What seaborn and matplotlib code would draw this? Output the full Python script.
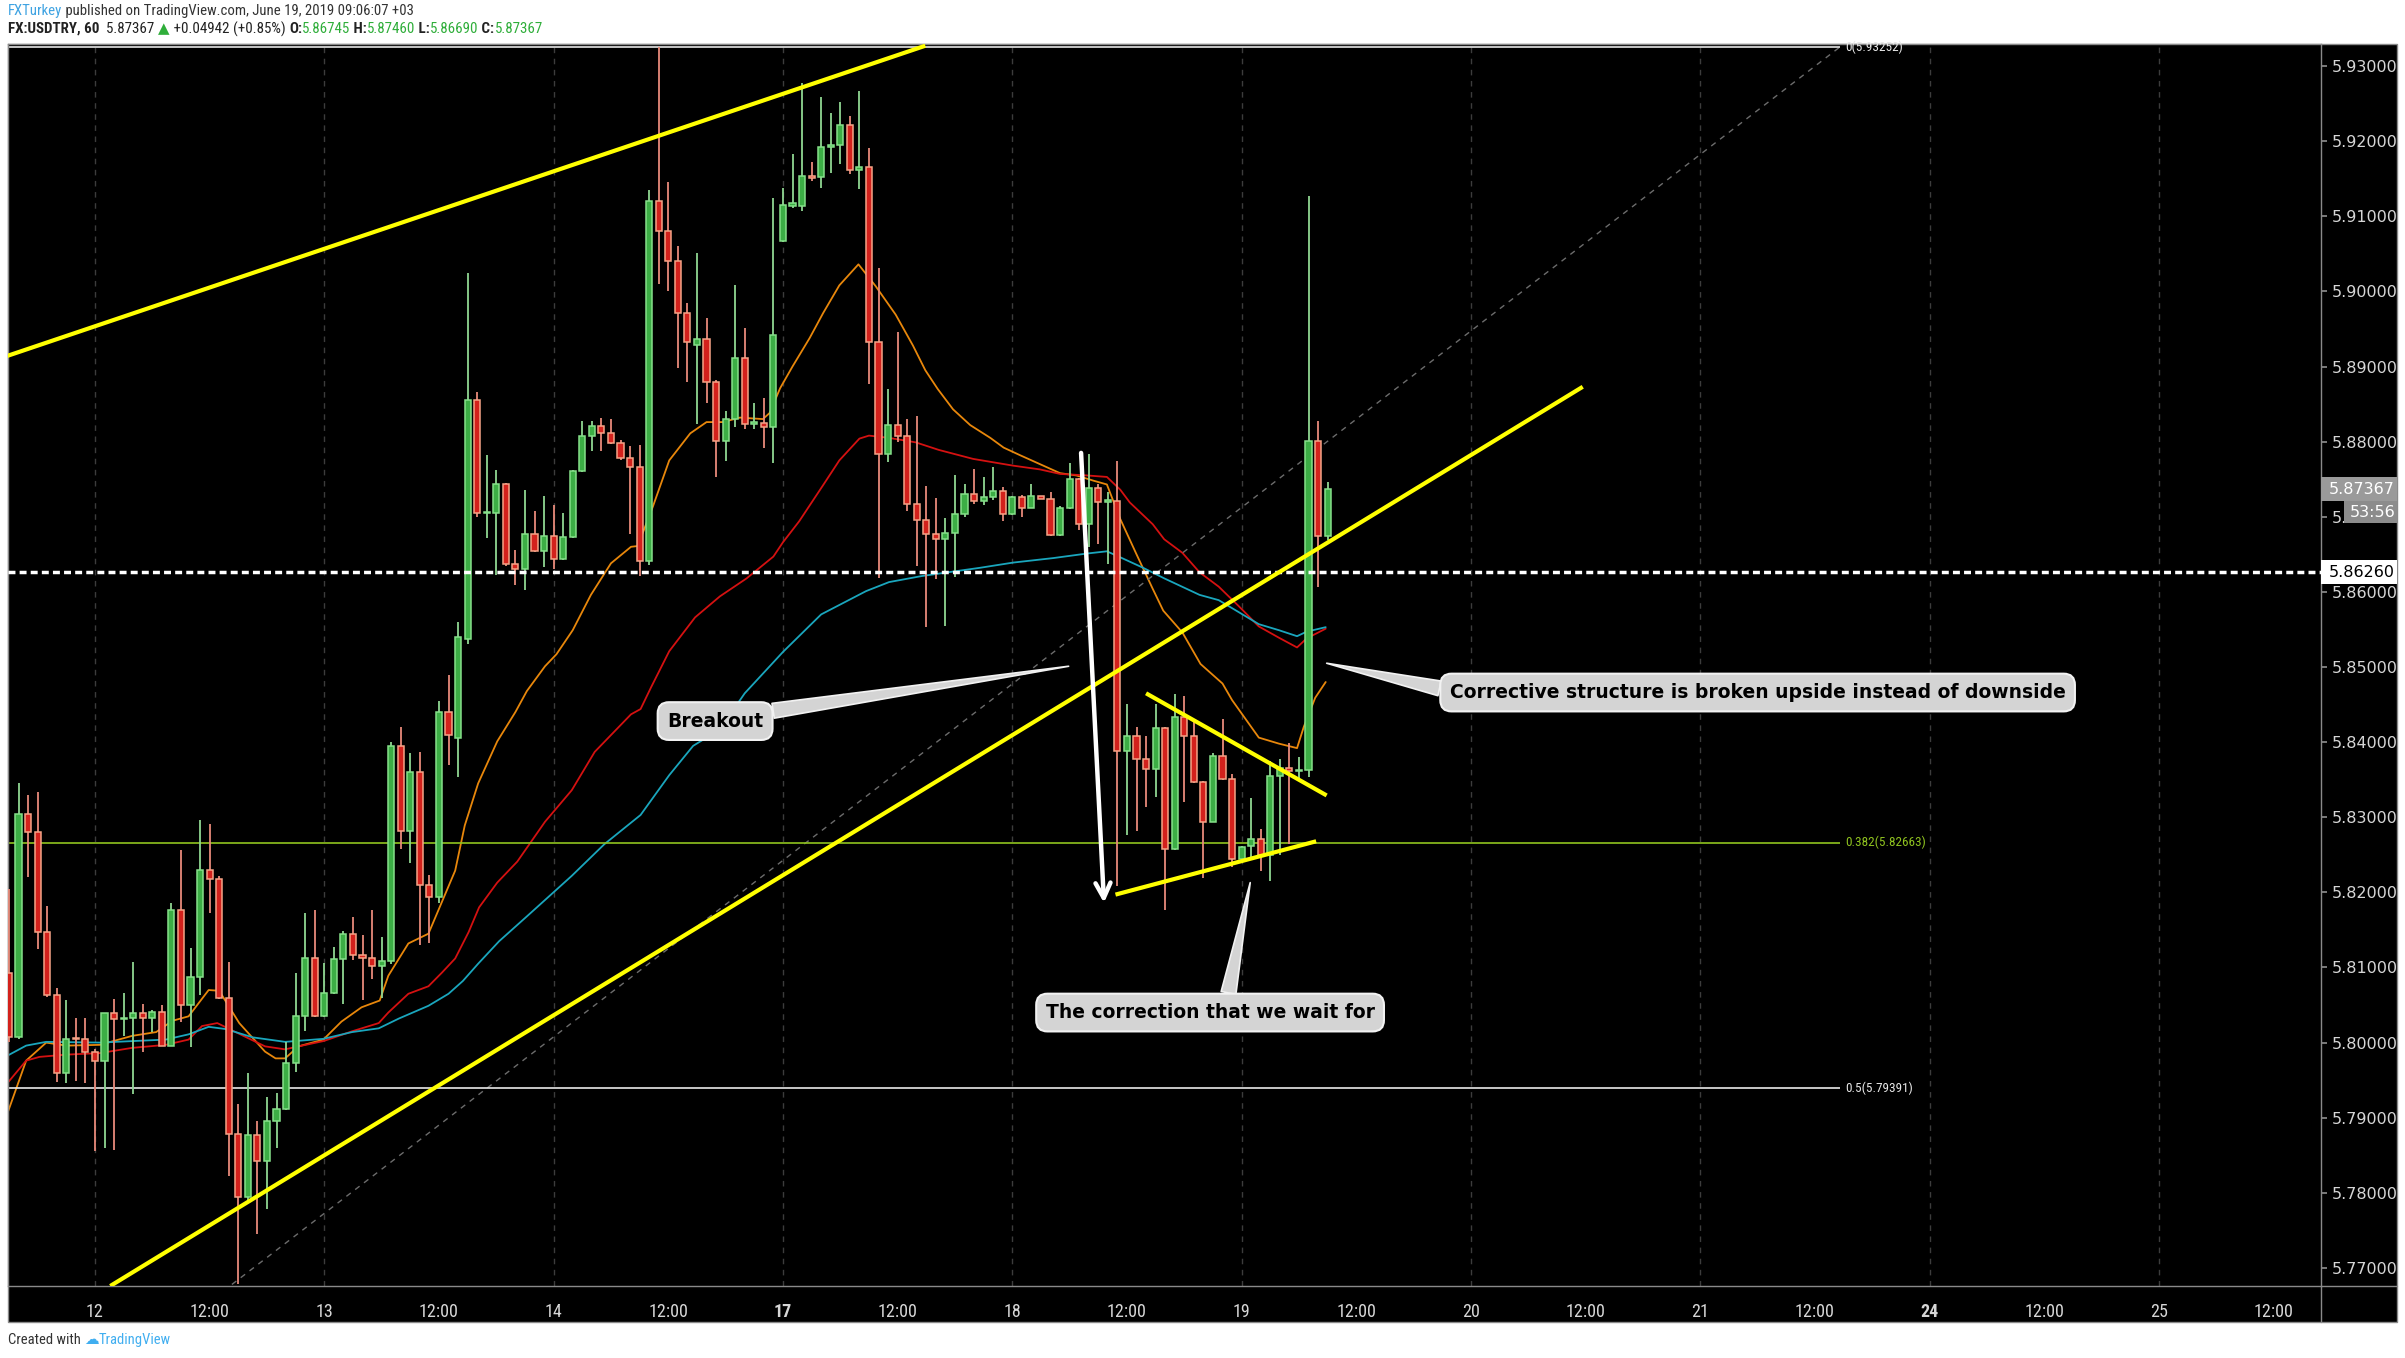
import matplotlib
matplotlib.use("Agg")
import matplotlib.font_manager as fm
import matplotlib.pyplot as plt
import matplotlib.transforms as mtransforms
import numpy as np
import pandas as pd
import seaborn as sns
from matplotlib.lines import Line2D
from matplotlib.patches import Rectangle

W, H = 2405, 1358

# bar 0 = Jun 12 00:00, one bar per hour, first visible bar is Jun 11 15:00
FIRST_BAR = -9

OPEN = [
    5.8092, 5.8007, 5.8304, 5.8280, 5.8147, 5.8064, 5.7960, 5.8006, 5.8005,
    5.7988, 5.7975, 5.8039, 5.8031, 5.8033, 5.8040, 5.8033, 5.8041, 5.7996, 5.8176, 5.8050, 5.8087,
    5.8230, 5.8218, 5.8059, 5.7878, 5.7795, 5.7877, 5.7843, 5.7896, 5.7911, 5.7973, 5.8036, 5.8112,
    5.8035, 5.8066, 5.8111, 5.8145, 5.8116, 5.8113, 5.8102, 5.8109, 5.8395, 5.8282, 5.8360, 5.8210,
    5.8194, 5.8440, 5.8406, 5.8537, 5.8856, 5.8705, 5.8705, 5.8743, 5.8637, 5.8631, 5.8677, 5.8655,
    5.8675, 5.8644, 5.8673, 5.8761, 5.8807, 5.8821, 5.8811, 5.8798, 5.8778, 5.8766, 5.8641, 5.9120,
    5.9080, 5.9040, 5.8971, 5.8929, 5.8937, 5.8880, 5.8801, 5.8830, 5.8911, 5.8824, 5.8825, 5.8820,
    5.9067, 5.9114, 5.9114, 5.9153, 5.9152, 5.9192, 5.9195, 5.9221, 5.9161, 5.9165, 5.8932, 5.8784,
    5.8822, 5.8807, 5.8717, 5.8696, 5.8677, 5.8671, 5.8678, 5.8703, 5.8730, 5.8721, 5.8726, 5.8734,
    5.8704, 5.8726, 5.8712, 5.8727, 5.8724, 5.8676, 5.8711, 5.8750, 5.8691, 5.8738, 5.8720, 5.8721,
    5.8388, 5.8408, 5.8377, 5.8364, 5.8419, 5.8258, 5.8433, 5.8408, 5.8347, 5.8294, 5.8382, 5.8351,
    5.8244, 5.8262, 5.8271, 5.8250, 5.8355, 5.8366, 5.8361, 5.8363, 5.8801, 5.86745,
]
HIGH = [
    5.8205, 5.8345, 5.8329, 5.8334, 5.8182, 5.8073, 5.8057, 5.8033, 5.8033,
    5.7991, 5.8040, 5.8058, 5.8066, 5.8107, 5.8051, 5.8044, 5.8050, 5.8186, 5.8257, 5.8126, 5.8296,
    5.8291, 5.8222, 5.8107, 5.7918, 5.7959, 5.7895, 5.7927, 5.7933, 5.8001, 5.8092, 5.8173, 5.8177,
    5.8106, 5.8127, 5.8148, 5.8167, 5.8143, 5.8176, 5.8141, 5.8400, 5.8420, 5.8385, 5.8387, 5.8223,
    5.8455, 5.8490, 5.8560, 5.9025, 5.8866, 5.8782, 5.8762, 5.8745, 5.8656, 5.8736, 5.8707, 5.8727,
    5.8716, 5.8705, 5.8762, 5.8828, 5.8828, 5.8832, 5.8830, 5.8802, 5.8794, 5.8796, 5.9135, 5.9325,
    5.9145, 5.9060, 5.8985, 5.9051, 5.8965, 5.8882, 5.8841, 5.9008, 5.8951, 5.8852, 5.8858, 5.9124,
    5.9138, 5.9183, 5.9278, 5.9172, 5.9259, 5.9238, 5.9252, 5.9234, 5.9267, 5.9191, 5.9031, 5.8870,
    5.8946, 5.8830, 5.8834, 5.8741, 5.8725, 5.8698, 5.8755, 5.8744, 5.8763, 5.8753, 5.8766, 5.8740,
    5.8727, 5.8729, 5.8743, 5.8728, 5.8733, 5.8714, 5.8771, 5.8752, 5.8784, 5.8743, 5.8733, 5.8774,
    5.8451, 5.8420, 5.8408, 5.8451, 5.8420, 5.8464, 5.8462, 5.8431, 5.8348, 5.8386, 5.8431, 5.8358,
    5.8262, 5.8325, 5.8284, 5.8375, 5.8377, 5.8399, 5.8380, 5.9127, 5.8828, 5.87460,
]
LOW = [
    5.8001, 5.8005, 5.8221, 5.8125, 5.8061, 5.7947, 5.7946, 5.7949, 5.7946,
    5.7856, 5.7860, 5.7857, 5.8009, 5.7932, 5.7987, 5.8014, 5.7995, 5.7995, 5.8028, 5.7994, 5.8063,
    5.8172, 5.8058, 5.7823, 5.7678, 5.7787, 5.7745, 5.7778, 5.7860, 5.7910, 5.7961, 5.8015, 5.8034,
    5.8034, 5.8065, 5.8052, 5.8110, 5.8057, 5.8085, 5.8060, 5.8105, 5.8258, 5.8239, 5.8130, 5.8132,
    5.8186, 5.8369, 5.8354, 5.8530, 5.8700, 5.8672, 5.8623, 5.8635, 5.8609, 5.8603, 5.8653, 5.8633,
    5.8630, 5.8643, 5.8672, 5.8760, 5.8787, 5.8787, 5.8797, 5.8776, 5.8677, 5.8621, 5.8636, 5.9010,
    5.9000, 5.8898, 5.8879, 5.8823, 5.8851, 5.8753, 5.8774, 5.8819, 5.8817, 5.8817, 5.8791, 5.8771,
    5.9066, 5.9111, 5.9107, 5.9147, 5.9138, 5.9157, 5.9170, 5.9156, 5.9136, 5.8877, 5.8618, 5.8773,
    5.8799, 5.8707, 5.8634, 5.8553, 5.8617, 5.8554, 5.8620, 5.8700, 5.8717, 5.8716, 5.8722, 5.8695,
    5.8702, 5.8700, 5.8711, 5.8723, 5.8675, 5.8675, 5.8710, 5.8682, 5.8660, 5.8664, 5.8637, 5.8209,
    5.8277, 5.8282, 5.8313, 5.8327, 5.8176, 5.8257, 5.8320, 5.8346, 5.8219, 5.8293, 5.8350, 5.8234,
    5.8239, 5.8247, 5.8228, 5.8215, 5.8250, 5.8264, 5.8348, 5.8354, 5.8607, 5.86690,
]
CLOSE = [
    5.8007, 5.8304, 5.8280, 5.8147, 5.8064, 5.7960, 5.8005, 5.8005, 5.7988,
    5.7975, 5.8039, 5.8031, 5.8033, 5.8040, 5.8033, 5.8041, 5.7996, 5.8176, 5.8050, 5.8087, 5.8230,
    5.8218, 5.8059, 5.7878, 5.7795, 5.7877, 5.7843, 5.7896, 5.7911, 5.7973, 5.8036, 5.8112, 5.8035,
    5.8066, 5.8111, 5.8145, 5.8116, 5.8113, 5.8102, 5.8109, 5.8395, 5.8282, 5.8360, 5.8210, 5.8194,
    5.8440, 5.8410, 5.8540, 5.8856, 5.8705, 5.8706, 5.8743, 5.8637, 5.8631, 5.8677, 5.8655, 5.8675,
    5.8644, 5.8673, 5.8761, 5.8807, 5.8821, 5.8811, 5.8798, 5.8778, 5.8766, 5.8641, 5.9120, 5.9080,
    5.9040, 5.8971, 5.8933, 5.8937, 5.8880, 5.8801, 5.8830, 5.8911, 5.8824, 5.8826, 5.8820, 5.8942,
    5.9115, 5.9117, 5.9153, 5.9151, 5.9192, 5.9195, 5.9221, 5.9161, 5.9165, 5.8932, 5.8784, 5.8822,
    5.8807, 5.8717, 5.8696, 5.8677, 5.8671, 5.8678, 5.8703, 5.8730, 5.8721, 5.8726, 5.8734, 5.8704,
    5.8726, 5.8712, 5.8727, 5.8724, 5.8676, 5.8711, 5.8750, 5.8691, 5.8738, 5.8720, 5.8722, 5.8388,
    5.8408, 5.8377, 5.8364, 5.8419, 5.8258, 5.8433, 5.8408, 5.8347, 5.8294, 5.8382, 5.8351, 5.8244,
    5.8260, 5.8271, 5.8250, 5.8355, 5.8366, 5.8361, 5.8363, 5.8801, 5.8674, 5.87367,
]

# moving averages (bar position, price)
MA_FAST_X = [-9.1, -7.2, -5.1, -3, 0.5, 3.9, 6.4, 8.1, 9.8, 11.9, 13, 15.1, 17.8, 18.9, 19.9, 21.3,
             23.9, 25.8, 27.9, 29.8, 30.7, 32.8, 34.9, 36.6, 37.7, 38.7, 40.1, 42.1, 44, 45.2, 47.1,
             48.3, 50, 51.9, 54, 56.1, 56.8, 58.4, 60.1, 62.3, 64, 65.7, 67.5, 69.9, 70.6, 71.7, 73,
             74.8, 76.2, 77.9, 79.9, 81.7, 83.8, 85.6, 86.9, 88.2, 89.8, 91.6, 93.7, 95.1, 96.8, 98.9,
             101, 102.7, 104.5, 105.9, 107.3, 109, 110.7, 111.8, 113.8, 115.7, 118, 119, 121.8, 123.9,
             125.8, 126.5, 127.7, 128.8]
MA_FAST_Y = [5.7908, 5.7976, 5.8000, 5.7996, 5.7997, 5.8009, 5.8014, 5.8029, 5.8035, 5.8070, 5.8069,
             5.8026, 5.7988, 5.7979, 5.7979, 5.7995, 5.8004, 5.8028, 5.8047, 5.8056, 5.8089, 5.8132,
             5.8145, 5.8196, 5.8229, 5.8289, 5.8345, 5.8401, 5.8440, 5.8468, 5.8501, 5.8517, 5.8549,
             5.8596, 5.8638, 5.8660, 5.8661, 5.8714, 5.8775, 5.8811, 5.8826, 5.8826, 5.8832, 5.8830,
             5.8838, 5.8871, 5.8900, 5.8938, 5.8971, 5.9008, 5.9036, 5.9007, 5.8969, 5.8928, 5.8895,
             5.8870, 5.8843, 5.8822, 5.8805, 5.8792, 5.8782, 5.8770, 5.8758, 5.8755, 5.8748, 5.8743,
             5.8697, 5.8650, 5.8604, 5.8575, 5.8546, 5.8504, 5.8478, 5.8456, 5.8406, 5.8398, 5.8392,
             5.8420, 5.8459, 5.8480]
MA_MID_X = [-9.1, -7.2, -5.8, -3, 0.5, 3.9, 7.4, 9.8, 11.2, 12.8, 14.4, 17.8, 19.9, 21.3, 23.9, 26.9,
            29.7, 30.7, 32.8, 34.9, 36.3, 37.7, 39.1, 40.2, 42.1, 44.2, 47.1, 49.9, 52.3, 54.2, 56.1,
            57.1, 58.2, 60.1, 62.8, 65.4, 68.2, 71, 72, 73.7, 76.2, 77.9, 80, 81, 83.1, 85.9, 88.3,
            91.9, 96.1, 98.9, 101, 103.8, 105.9, 107.3, 108.3, 110.7, 111.9, 113.8, 115.6, 117.6,
            119.7, 121.8, 123.9, 125.8, 126.8, 128.8]
MA_MID_Y = [5.7947, 5.7976, 5.7981, 5.7984, 5.7986, 5.7993, 5.7997, 5.8004, 5.8022, 5.8026, 5.8016,
            5.7995, 5.7991, 5.7995, 5.8002, 5.8015, 5.8026, 5.8040, 5.8065, 5.8075, 5.8093, 5.8112,
            5.8147, 5.8180, 5.8213, 5.8241, 5.8294, 5.8336, 5.8387, 5.8412, 5.8437, 5.8444, 5.8473,
            5.8521, 5.8566, 5.8594, 5.8618, 5.8647, 5.8666, 5.8694, 5.8742, 5.8775, 5.8804, 5.8808,
            5.8805, 5.8799, 5.8789, 5.8777, 5.8768, 5.8763, 5.8757, 5.8755, 5.8753, 5.8736, 5.8719,
            5.8690, 5.8670, 5.8652, 5.8626, 5.8607, 5.8581, 5.8554, 5.8539, 5.8526, 5.8538, 5.8551]
MA_SLOW_X = [-9.1, -7.2, -5.1, 0.5, 3.9, 7.4, 9.8, 11.9, 13.7, 16.5, 19.9, 23.9, 26.9, 29.7, 31.8,
             34.9, 37, 38.5, 40.1, 42.3, 45.2, 49.9, 53.3, 57.1, 60.1, 62.6, 65.4, 68, 72, 76, 80.7,
             83.1, 86.5, 89.8, 92.6, 96.1, 100.3, 103.8, 105.9, 107.3, 109.7, 111.9, 115.6, 117.6,
             121.8, 123.9, 125.8, 126.8, 128.8]
MA_SLOW_Y = [5.7983, 5.7996, 5.8001, 5.8000, 5.8002, 5.8004, 5.8011, 5.8021, 5.8018, 5.8007, 5.8001,
             5.8005, 5.8014, 5.8019, 5.8032, 5.8049, 5.8065, 5.8082, 5.8105, 5.8135, 5.8168, 5.8222,
             5.8264, 5.8303, 5.8356, 5.8395, 5.8417, 5.8465, 5.8520, 5.8570, 5.8601, 5.8613, 5.8621,
             5.8627, 5.8632, 5.8639, 5.8645, 5.8651, 5.8654, 5.8646, 5.8632, 5.8618, 5.8596, 5.8589,
             5.8557, 5.8549, 5.8541, 5.8547, 5.8553]

X_TICK_LABELS = ["12", "12:00", "13", "12:00", "14", "12:00", "17", "12:00", "18", "12:00",
                 "19", "12:00", "20", "12:00", "21", "12:00", "24", "12:00", "25", "12:00"]
WEEK_START_LABELS = ["17", "24"]
PRICE_TICKS = [5.77, 5.78, 5.79, 5.80, 5.81, 5.82, 5.83, 5.84, 5.85, 5.86, 5.87, 5.88, 5.89,
               5.90, 5.91, 5.92, 5.93]

FIB_LEVELS = ["0", "0.382", "0.5"]
FIB_PRICES = [5.93252, 5.82663, 5.79391]
FIB_COLORS = ["#e8e8e8", "#8fc31f", "#e8e8e8"]
FIB_LOW = 5.65530

SUPPORT_LEVEL = 5.86260
LAST_PRICE = 5.87367

GREEN_FILL, GREEN_EDGE, GREEN_WICK = "#3cad45", "#86e08a", "#8fd692"
RED_FILL, RED_EDGE, RED_WICK = "#d3211c", "#f6a487", "#e88a7a"


def pick_font(candidates):
    names = {f.name for f in fm.fontManager.ttflist}
    for name in candidates:
        if name in names:
            return name
    return "DejaVu Sans"


def fig_xy(x_px, y_px):
    return x_px / W, 1 - y_px / H


def draw_runs(fig, x_px, y_px, runs, size, family):
    renderer = fig.canvas.get_renderer()
    for text, color, weight in runs:
        fx, fy = fig_xy(x_px, y_px)
        t = fig.text(fx, fy, text, color=color, fontsize=size, fontweight=weight,
                     family=[family, "DejaVu Sans"], ha="left", va="center")
        x_px += t.get_window_extent(renderer=renderer).width


sns.set_theme(style="white")
narrow = pick_font(["Liberation Sans Narrow", "Roboto Condensed", "Open Sans Condensed", "DejaVu Sans"])
plt.rcParams["font.family"] = ["DejaVu Sans"]

fig = plt.figure(figsize=(W / 100, H / 100), dpi=100, facecolor="white")

# black chart panel incl. the axis strips (drawn behind the axes)
x0, y0 = fig_xy(8, 1322)
fig.patches.append(Rectangle((x0, y0), (2397 - 8) / W, (1322 - 44) / H, transform=fig.transFigure,
                             facecolor="black", edgecolor="#8a8a8a", lw=1, zorder=-5))
fig.lines.append(Line2D([2321 / W, 2321 / W], [1 - 1322 / H, 1 - 1286 / H], transform=fig.transFigure,
                        color="#8a8a8a", lw=1, zorder=-4))
fig.lines.append(Line2D([2321 / W, 2397 / W], [1 - 1286 / H, 1 - 1286 / H], transform=fig.transFigure,
                        color="#8a8a8a", lw=1, zorder=-4))

ax = fig.add_axes([8 / W, 1 - 1286 / H, (2321 - 8) / W, (1286 - 44) / H])
ax.set_zorder(1)
ax.set_facecolor("black")
ax.set_xlim(-9.1, 232.96)
ax.set_ylim(5.7676, 5.93293)
for side in ["top", "bottom", "left", "right"]:
    ax.spines[side].set_color("#8a8a8a")
    ax.spines[side].set_linewidth(1)

# day separators
for k in range(0, len(X_TICK_LABELS), 2):
    ax.axvline(k * 12, color="#3c3c3c", lw=1, dashes=(4, 4), zorder=1)

# moving averages
ma = pd.concat([
    pd.DataFrame({"bar": MA_FAST_X, "price": MA_FAST_Y, "ma": "fast"}),
    pd.DataFrame({"bar": MA_MID_X, "price": MA_MID_Y, "ma": "mid"}),
    pd.DataFrame({"bar": MA_SLOW_X, "price": MA_SLOW_Y, "ma": "slow"}),
])
sns.lineplot(data=ma, x="bar", y="price", hue="ma", palette={"fast": "#e8870b", "mid": "#d41111", "slow": "#1aa6bd"},
             linewidth=1.3, legend=False, ax=ax, zorder=2)

# candles
bars = pd.DataFrame({"open": OPEN, "high": HIGH, "low": LOW, "close": CLOSE})
bars["bar"] = np.arange(FIRST_BAR, FIRST_BAR + len(bars))
up = bars["close"] >= bars["open"]
for mask, fill, edge, wick in [(up, GREEN_FILL, GREEN_EDGE, GREEN_WICK), (~up, RED_FILL, RED_EDGE, RED_WICK)]:
    sub = bars[mask]
    ax.vlines(sub["bar"], sub["low"], sub["high"], color=wick, lw=1.3, zorder=3)
    body = (sub["close"] - sub["open"]).abs().clip(lower=0.00008)
    ax.bar(sub["bar"], body, bottom=np.minimum(sub["open"], sub["close"]), width=0.64,
           color=fill, edgecolor=edge, lw=1.1, zorder=4)

# fibonacci retracement
fib_end = 182.6
ax.plot([-100.6, fib_end], [FIB_LOW, FIB_PRICES[0]], color="#6c6c6c", lw=1, dashes=(4, 4), zorder=2)
for level, price, color in zip(FIB_LEVELS, FIB_PRICES, FIB_COLORS):
    ax.hlines(price, -9.1, fib_end, color=color, lw=1.2, zorder=2)
    ax.text(fib_end + 0.6, price, f"{level}({price:.5f})", color=color, fontsize=9.5,
            family=[narrow, "DejaVu Sans"], ha="left", va="center", zorder=6)

# horizontal support
ax.axhline(SUPPORT_LEVEL, color="white", lw=2.5, dashes=(2, 1.2), zorder=5)

# yellow trend lines
yellow = dict(color="#ffff00", lw=3, solid_capstyle="butt", zorder=6)
ax.plot([-9.2, 86.9], [5.8914, 5.9327], **yellow)
ax.plot([1.6, 155.7], [5.7676, 5.8873], **yellow)
ax.plot([110.0, 128.9], [5.8465, 5.8329], **yellow)
ax.plot([106.8, 127.8], [5.8197, 5.8268], **yellow)

# big white arrow
ax.annotate("", xy=(105.6, 5.8186), xytext=(103.2, 5.8785),
            arrowprops=dict(arrowstyle="->,head_length=0.9,head_width=0.45", color="white", lw=3.2,
                            shrinkA=0, shrinkB=0), zorder=7)

# callouts
box = dict(boxstyle="round,pad=0.5,rounding_size=0.6", fc="#d4d4d4", ec="#f2f2f2", lw=1.5)
callouts = [
    ("Breakout", (101.9, 5.8501), (64.9, 5.8428), (0.85, 0.85)),
    ("The correction that we wait for", (120.9, 5.8213), (116.7, 5.8040), (0.55, 1.0)),
    ("Corrective structure is broken upside instead of downside", (128.9, 5.8505), (174.0, 5.8466), (0.0, 0.6)),
]
for text, target, pos, rel in callouts:
    ax.annotate(text, xy=target, xytext=pos, ha="center", va="center", fontsize=13.5, fontweight="bold",
                color="black", bbox=box, zorder=8,
                arrowprops=dict(arrowstyle="wedge,tail_width=0.8,shrink_factor=0.5", fc="#d4d4d4",
                                ec="#f2f2f2", lw=1.2, relpos=rel, shrinkA=0, shrinkB=0))

# axes ticks
ax.set_xticks([12 * k for k in range(len(X_TICK_LABELS))])
ax.set_xticklabels(X_TICK_LABELS)
for lab in ax.get_xticklabels():
    lab.set_family([narrow, "DejaVu Sans"])
    if lab.get_text() in WEEK_START_LABELS:
        lab.set_fontweight("bold")
ax.tick_params(axis="x", colors="#8a8a8a", labelcolor="#d6d6d6", labelsize=13, length=4, pad=8, direction="out")
ax.yaxis.tick_right()
ax.set_yticks(PRICE_TICKS)
ax.set_yticklabels([f"{p:.5f}" for p in PRICE_TICKS])
ax.tick_params(axis="y", colors="#8a8a8a", labelcolor="#d6d6d6", labelsize=11.5, length=4, pad=3.5, direction="out")
ax.set_xlabel("")
ax.set_ylabel("")

# price tags on the price scale
tag_tf = mtransforms.blended_transform_factory(ax.transAxes, ax.transData)
ax_w_px = 2321 - 8
px_per_price = 7507.0


def price_tag(price, x_start_px, text, fill, text_color, offset_px=0, half_h_px=12, text_px=8):
    ax_x0 = (x_start_px - 8) / ax_w_px
    ax_x1 = (2397 - 8) / ax_w_px
    centre = price - offset_px / px_per_price
    half = half_h_px / px_per_price
    ax.add_patch(Rectangle((ax_x0, centre - half), ax_x1 - ax_x0, 2 * half, transform=tag_tf,
                           facecolor=fill, edgecolor="none", clip_on=False, zorder=9))
    ax.text(ax_x0 + text_px / ax_w_px, centre, text, transform=tag_tf, color=text_color, fontsize=11.5,
            ha="left", va="center", clip_on=False, zorder=10)


price_tag(LAST_PRICE, 2321, f"{LAST_PRICE:.5f}", "#9a9a9a", "white")
price_tag(LAST_PRICE, 2344, "53:56", "#8c8c8c", "white", offset_px=23, half_h_px=11, text_px=6)
price_tag(SUPPORT_LEVEL, 2321, f"{SUPPORT_LEVEL:.5f}", "white", "black")

# header and footer
draw_runs(fig, 8, 11, [("FXTurkey", "#3fa3e2", "normal"),
                       (" published on TradingView.com, June 19, 2019 09:06:07 +03", "#333333", "normal")],
          10.6, narrow)
draw_runs(fig, 8, 29, [("FX:USDTRY, 60", "#222222", "bold"), ("  5.87367 ", "#222222", "normal"),
                       ("\u25b2", "#2fae3a", "normal"), (" +0.04942 (+0.85%) ", "#222222", "normal"),
                       ("O:", "#222222", "bold"), ("5.86745", "#2fae3a", "normal"),
                       (" H:", "#222222", "bold"), ("5.87460", "#2fae3a", "normal"),
                       (" L:", "#222222", "bold"), ("5.86690", "#2fae3a", "normal"),
                       (" C:", "#222222", "bold"), ("5.87367", "#2fae3a", "normal")],
          10.8, narrow)
draw_runs(fig, 8, 1340, [("Created with ", "#333333", "normal"), ("\u2601", "#40aef0", "normal"),
                         ("TradingView", "#40aef0", "normal")], 10.5, narrow)

fig.savefig("out.png", dpi=100, facecolor="white")
